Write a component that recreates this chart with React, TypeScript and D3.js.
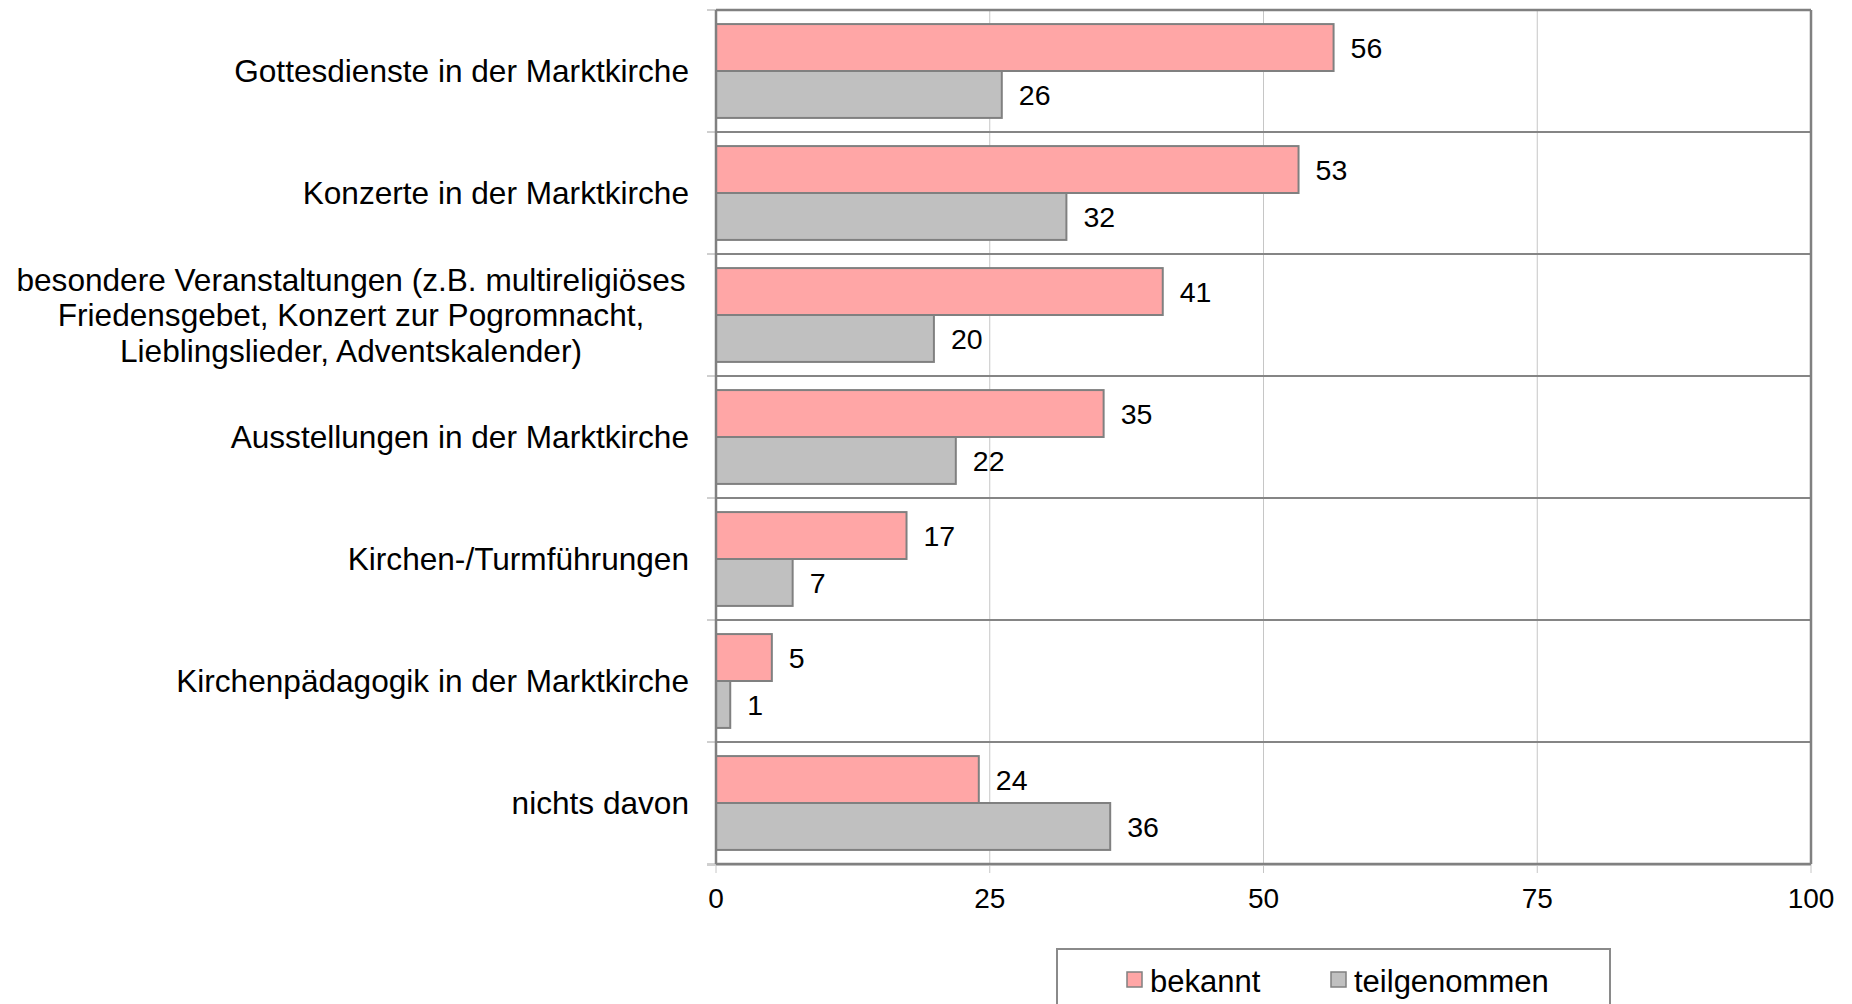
import React from "react";
import * as d3 from "d3";

const categories: string[][] = [
  ["Gottesdienste in der Marktkirche"],
  ["Konzerte in der Marktkirche"],
  [
    "besondere Veranstaltungen (z.B. multireligiöses",
    "Friedensgebet, Konzert zur Pogromnacht,",
    "Lieblingslieder, Adventskalender)",
  ],
  ["Ausstellungen in der Marktkirche"],
  ["Kirchen-/Turmführungen"],
  ["Kirchenpädagogik in der Marktkirche"],
  ["nichts davon"],
];
const seriesNames = ["bekannt", "teilgenommen"];
const bekannt = [56.4, 53.2, 40.8, 35.4, 17.4, 5.1, 24.0];
const teilgenommen = [26.1, 32.0, 19.9, 21.9, 7.0, 1.3, 36.0];
const xTicks = [0, 25, 50, 75, 100];
const colors = ["#ffa6a6", "#c0c0c0"];

const W = 1852;
const H = 1004;
const left = 716;
const right = 1811;
const top = 10;
const bottom = 864;
const FONT = "'Liberation Sans', Arial, sans-serif";

export default function App() {
  const x = d3.scaleLinear().domain([0, 100]).range([left, right]);
  const keys = categories.map((_, i) => String(i));
  const y0 = d3.scaleBand<string>().domain(keys).range([top, bottom]).padding(0);
  const y1 = d3
    .scaleBand<string>()
    .domain(seriesNames)
    .range([0, y0.bandwidth()])
    .paddingInner(0)
    .paddingOuter(0.3);
  const series = [bekannt, teilgenommen];
  const fmt = d3.format(".0f");
  const labelSize = 31.6;
  const lineH = 35.4;

  return (
    <svg
      width={W}
      height={H}
      style={{ position: "absolute", left: 0, top: 0, display: "block", background: "#fff" }}
      fontFamily={FONT}
    >
      {/* vertical gridlines & x ticks */}
      {xTicks.map((t) => (
        <line
          key={"g" + t}
          x1={x(t)}
          x2={x(t)}
          y1={top}
          y2={bottom + 9}
          stroke="#c6c6c6"
          strokeWidth={1}
        />
      ))}
      {/* bottom light axis line */}
      <line x1={left - 9} x2={right} y1={bottom + 1.5} y2={bottom + 1.5} stroke="#d0d0d0" strokeWidth={1} />
      {/* category separators and y ticks */}
      {d3.range(categories.length + 1).map((i) => {
        const yy = top + i * y0.step();
        return (
          <g key={"s" + i}>
            <line x1={left - 9} x2={left} y1={yy} y2={yy} stroke="#a0a0a0" strokeWidth={1} />
            <line x1={left} x2={right} y1={yy} y2={yy} stroke="#858585" strokeWidth={2} />
          </g>
        );
      })}
      {/* bars */}
      {categories.map((_, i) =>
        series.map((vals, s) => {
          const by = (y0(keys[i]) as number) + (y1(seriesNames[s]) as number);
          const bw = x(vals[i]) - x(0);
          return (
            <g key={"b" + i + "-" + s}>
              <rect
                x={x(0)}
                y={by}
                width={bw}
                height={y1.bandwidth()}
                fill={colors[s]}
                stroke="#808080"
                strokeWidth={2}
              />
              <text
                x={x(vals[i]) + 17}
                y={by + y1.bandwidth() / 2 + 10.5}
                fontSize={28.5}
                fill="#000"
              >
                {fmt(vals[i])}
              </text>
            </g>
          );
        })
      )}
      {/* frame */}
      <line x1={left} x2={left} y1={top} y2={bottom} stroke="#808080" strokeWidth={2.5} />
      <line x1={right} x2={right} y1={top} y2={bottom} stroke="#808080" strokeWidth={2.5} />
      <line x1={left} x2={right} y1={bottom} y2={bottom} stroke="#808080" strokeWidth={2.5} />
      <line x1={left} x2={right} y1={top} y2={top} stroke="#808080" strokeWidth={2.5} />
      {/* category labels */}
      {categories.map((lines, i) => {
        const cy = (y0(keys[i]) as number) + y0.bandwidth() / 2;
        const n = lines.length;
        const lx = n > 1 ? 351 : 689;
        return (
          <text
            key={"l" + i}
            fontSize={labelSize}
            textAnchor={n > 1 ? "middle" : "end"}
            fill="#000"
          >
            {lines.map((ln, k) => (
              <tspan key={k} x={lx} y={cy + (k - (n - 1) / 2) * lineH + 0.358 * labelSize}>
                {ln}
              </tspan>
            ))}
          </text>
        );
      })}
      {/* x tick labels */}
      {xTicks.map((t) => (
        <text key={"t" + t} x={x(t)} y={908} fontSize={28} textAnchor="middle" fill="#000">
          {t}
        </text>
      ))}
      {/* legend */}
      <rect x={1057} y={949} width={553} height={80} fill="#fff" stroke="#8a8a8a" strokeWidth={2} />
      {seriesNames.map((nm, s) => {
        const sx = [1127, 1331][s];
        return (
          <g key={"lg" + s}>
            <rect x={sx} y={972} width={15} height={15} fill={colors[s]} stroke="#808080" strokeWidth={1.5} />
            <text x={sx + 23} y={992} fontSize={31} fill="#000">
              {nm}
            </text>
          </g>
        );
      })}
    </svg>
  );
}
